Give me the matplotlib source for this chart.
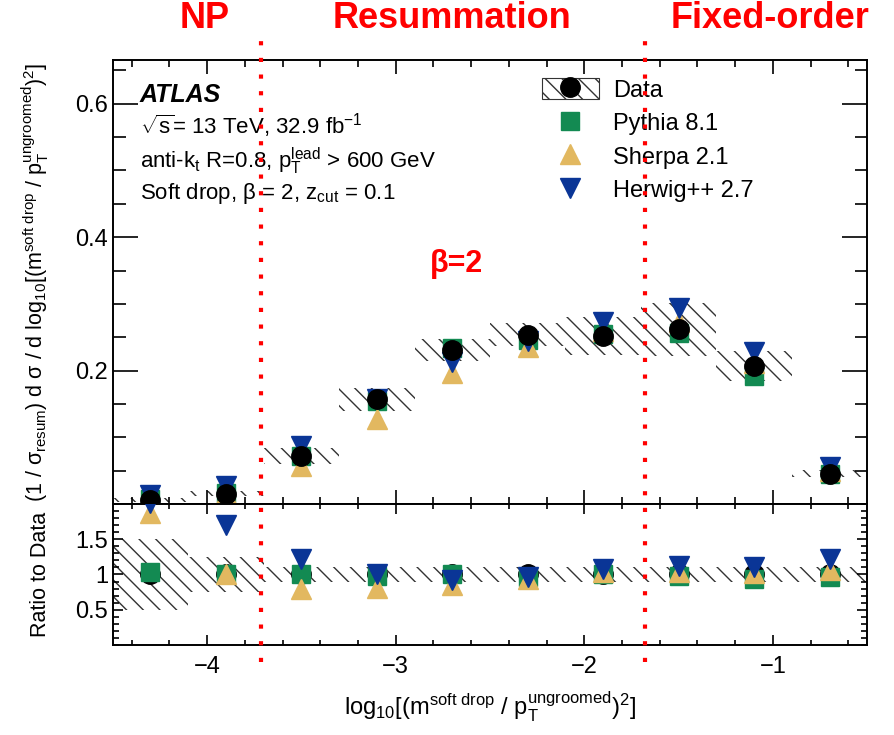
import numpy as np
import matplotlib
matplotlib.use("Agg")
import matplotlib.pyplot as plt
import matplotlib.transforms as mtransforms
from matplotlib.patches import Patch
from matplotlib.lines import Line2D
from matplotlib.ticker import FixedLocator, MultipleLocator, FuncFormatter

plt.rcParams['font.family'] = ['Liberation Sans', 'DejaVu Sans']
plt.rcParams['mathtext.fontset'] = 'custom'
plt.rcParams['mathtext.rm'] = 'Liberation Sans'
plt.rcParams['mathtext.it'] = 'Liberation Sans'
plt.rcParams['mathtext.bf'] = 'Liberation Sans:bold'
plt.rcParams['hatch.linewidth'] = 1.0

# binning in log10[(m / pT)^2]
bin_centres = [-4.3, -3.9, -3.5, -3.1, -2.7, -2.3, -1.9, -1.5, -1.1, -0.7]
bin_width = 0.4

# unfolded data and its total uncertainty
data = [0.007, 0.016, 0.072, 0.157, 0.231, 0.254, 0.252, 0.262, 0.207, 0.046]
data_err = [0.003, 0.004, 0.012, 0.017, 0.017, 0.017, 0.029, 0.040, 0.023, 0.005]
ratio_err = [0.50, 0.25, 0.11, 0.11, 0.11, 0.11, 0.11, 0.11, 0.11, 0.11]

# MC predictions
pythia = [0.0072, 0.0162, 0.0720, 0.1539, 0.2333, 0.2464, 0.2545, 0.2568, 0.1925, 0.0446]
sherpa = [0.0131, 0.0160, 0.0569, 0.1272, 0.1964, 0.2362, 0.2596, 0.2725, 0.2111, 0.0492]
herwig = [0.0141, 0.0272, 0.0878, 0.1570, 0.2125, 0.2438, 0.2722, 0.2934, 0.2277, 0.0561]

# boundaries between NP / resummation / fixed-order regions
region_cuts = [-3.715, -1.68]

green = '#138a52'
gold = '#e2b860'
blue = '#0a3596'
hatch_col = '#333333'

x = np.array(bin_centres)
d = np.array(data)
de = np.array(data_err)
re = np.array(ratio_err)

fig = plt.figure(figsize=(8.95, 7.35), dpi=100)
ax = fig.add_axes([0.126, 0.314, 0.843, 0.604])
rax = fig.add_axes([0.126, 0.1224, 0.843, 0.192], sharex=ax)

# main panel
ax.bar(x, 2 * de, bottom=d - de, width=bin_width, facecolor='none',
       edgecolor=hatch_col, hatch='\\\\', linewidth=0, zorder=1)
ax.plot(x, pythia, 's', color=green, ms=13, ls='none', zorder=3)
ax.plot(x, sherpa, '^', color=gold, ms=14, ls='none', zorder=4)
ax.plot(x, herwig, 'v', color=blue, ms=14, ls='none', zorder=5)
ax.plot(x, d, 'o', color='black', ms=14, ls='none', zorder=6)

ax.set_xlim(-4.5, -0.5)
ax.set_ylim(0, 0.665)
ax.yaxis.set_major_locator(FixedLocator([0.2, 0.4, 0.6]))
ax.yaxis.set_major_formatter(FuncFormatter(lambda v, p: f"{v:.1f}"))
ax.yaxis.set_minor_locator(MultipleLocator(0.05))
ax.xaxis.set_major_locator(MultipleLocator(1))
ax.xaxis.set_minor_locator(MultipleLocator(0.2))
ax.tick_params(which='both', direction='in', top=True, right=True,
               labelbottom=False, labelsize=17, width=1.2)
ax.tick_params(axis='y', which='major', length=18)
ax.tick_params(axis='y', which='minor', length=9)
ax.tick_params(axis='x', which='major', length=10)
ax.tick_params(axis='x', which='minor', length=5)
ax.set_ylabel(r"(1 / $\sigma_{\rm resum}$) d $\sigma$ / d log$_{10}$[(m$^{\rm soft\ drop}$ / p$_{\rm T}^{\rm ungroomed}$)$^{2}$]",
              fontsize=15.5)
ax.yaxis.set_label_coords(-0.082, 0.5)

# ratio panel
rax.bar(x, 2 * re, bottom=1 - re, width=bin_width, facecolor='none',
        edgecolor=hatch_col, hatch='\\\\', linewidth=0, zorder=1)
rax.plot(x, np.ones_like(d), 'o', color='black', ms=14, ls='none', zorder=2)
rax.plot(x, np.array(pythia) / d, 's', color=green, ms=13, ls='none', zorder=3)
rax.plot(x, np.array(sherpa) / d, '^', color=gold, ms=14, ls='none', zorder=4)
rax.plot(x, np.array(herwig) / d, 'v', color=blue, ms=14, ls='none', zorder=5)

rax.set_ylim(0, 2)
rax.yaxis.set_major_locator(FixedLocator([0.5, 1, 1.5]))
rax.yaxis.set_major_formatter(FuncFormatter(lambda v, p: f"{v:g}"))
rax.yaxis.set_minor_locator(MultipleLocator(0.1))
rax.tick_params(which='both', direction='in', top=True, right=True,
                labelsize=17, width=1.2)
rax.tick_params(axis='y', which='major', length=7)
rax.tick_params(axis='y', which='minor', length=4)
rax.tick_params(axis='x', which='major', length=7, pad=8)
rax.tick_params(axis='x', which='minor', length=3.5)
rax.set_ylabel("Ratio to Data", fontsize=15.5)
rax.yaxis.set_label_coords(-0.082, 0.5)
rax.set_xlabel(r"log$_{10}$[(m$^{\rm soft\ drop}$ / p$_{\rm T}^{\rm ungroomed}$)$^{2}$]",
               fontsize=17, labelpad=8)

for a in (ax, rax):
    for s in a.spines.values():
        s.set_linewidth(1.4)

# labels
ax.text(0.036, 0.905, "ATLAS", transform=ax.transAxes, fontsize=18,
        fontweight='bold', fontstyle='italic', va='baseline')
ax.text(0.036, 0.833, r"$\sqrt{s}$= 13 TeV, 32.9 fb$^{-1}$", transform=ax.transAxes,
        fontsize=16, va='baseline')
ax.text(0.036, 0.757, r"anti-k$_{t}$ R=0.8, p$_{\rm T}^{\rm lead}$ > 600 GeV",
        transform=ax.transAxes, fontsize=16, va='baseline')
ax.text(0.036, 0.687, r"Soft drop, $\beta$ = 2, z$_{\rm cut}$ = 0.1",
        transform=ax.transAxes, fontsize=16, va='baseline')

ax.text(-2.68, 0.36, "β=2", color='red', fontsize=22, fontweight='bold',
        ha='center', va='center')

handles = [
    (Patch(facecolor='white', edgecolor=hatch_col, hatch='\\\\', lw=0.8),
     Line2D([], [], marker='o', color='black', ms=14, ls='none')),
    Line2D([], [], marker='s', color=green, ms=13, ls='none'),
    Line2D([], [], marker='^', color=gold, ms=14, ls='none'),
    Line2D([], [], marker='v', color=blue, ms=14, ls='none'),
]
labels = ["Data", "Pythia 8.1", "Sherpa 2.1", "Herwig++ 2.7"]
ax.legend(handles, labels, loc='upper left', bbox_to_anchor=(0.569, 0.96),
          frameon=False, fontsize=17, borderpad=0, borderaxespad=0,
          handlelength=2.4, handleheight=1.0, handletextpad=0.6,
          labelspacing=0.42)

# region separators and names
trans = mtransforms.blended_transform_factory(ax.transData, fig.transFigure)
for xc in region_cuts:
    fig.add_artist(Line2D([xc, xc], [0.099, 0.948], transform=trans,
                          color='red', lw=3, ls=(0, (1, 3))))

fig.text(0.229, 0.9755, "NP", color='red', fontsize=26, fontweight='bold',
         ha='center', va='center')
fig.text(0.505, 0.9755, "Resummation", color='red', fontsize=26,
         fontweight='bold', ha='center', va='center')
fig.text(0.860, 0.9755, "Fixed-order", color='red', fontsize=26,
         fontweight='bold', ha='center', va='center')

fig.savefig("out.png", dpi=100)
